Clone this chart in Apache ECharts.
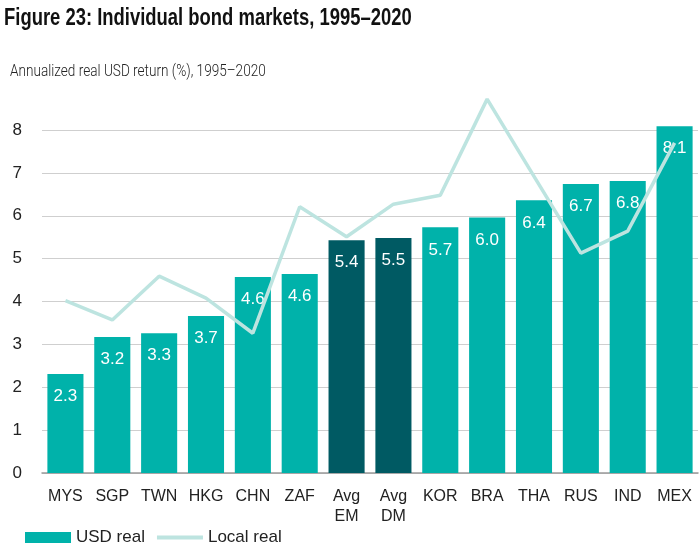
<!DOCTYPE html>
<html>
<head>
<meta charset="utf-8">
<script src="https://cdn.jsdelivr.net/npm/echarts@6/dist/echarts.min.js"></script>
<style>
html,body{margin:0;padding:0;background:#fff;}
#c{width:700px;height:551px;}
</style>
</head>
<body>
<div id="c"></div>
<script>
const categories = ['MYS','SGP','TWN','HKG','CHN','ZAF','Avg\nEM','Avg\nDM','KOR','BRA','THA','RUS','IND','MEX'];
const usdReal = [2.31, 3.17, 3.26, 3.66, 4.57, 4.64, 5.43, 5.48, 5.73, 5.96, 6.36, 6.74, 6.81, 8.09];
const localReal = [4.02, 3.57, 4.59, 4.08, 3.26, 6.21, 5.51, 6.27, 6.48, 8.72, 6.92, 5.13, 5.64, 7.70];
const highlighted = ['Avg\nEM','Avg\nDM'];
const yTicks = [0,1,2,3,4,5,6,7,8];
const titleText = 'Figure 23: Individual bond markets, 1995\u20132020';
const subtitleText = 'Annualized real USD return (%), 1995\u20132020';

const TEAL = '#00B2AA';
const DARK = '#005A63';
const LIGHT = '#BDE4E0';

const chart = echarts.init(document.getElementById('c'), null, {renderer:'canvas'});
chart.setOption({
  animation: false,
  backgroundColor: '#fff',
  graphic: [
    {type: 'text', x: 4, y: 6, scaleX: 0.768,
     style: {text: titleText, font: 'bold 24px "Liberation Sans"', fill: '#111', textVerticalAlign: 'top'}},
    {type: 'text', x: 10, y: 63, scaleX: 0.80,
     style: {text: subtitleText, font: '300 17px Roboto', fill: '#222', textVerticalAlign: 'top'}}
  ],
  legend: {
    left: 20, bottom: 0,
    itemWidth: 46, itemHeight: 11, itemGap: 10,
    textStyle: {fontFamily: 'Liberation Sans', fontSize: 17, color: '#222'},
    data: [
      {name: 'USD real', icon: 'rect', itemStyle: {color: TEAL}},
      {name: 'Local real', itemStyle: {opacity: 0}, lineStyle: {color: LIGHT, width: 4}}
    ]
  },
  grid: {left: 42, right: 2, top: 130, bottom: 78},
  xAxis: {
    type: 'category', data: categories,
    axisLine: {lineStyle: {color: '#9a9a9a', width: 1.5}},
    axisTick: {show: false},
    axisLabel: {fontFamily: 'Liberation Sans', fontSize: 16, color: '#222', margin: 14, lineHeight: 20, interval: 0}
  },
  yAxis: {
    type: 'value', min: 0, max: 8, interval: 1,
    axisLine: {show: false}, axisTick: {show: false},
    splitLine: {lineStyle: {color: '#cfcfcf', width: 1}},
    axisLabel: {fontFamily: 'Liberation Sans', fontSize: 17, color: '#222', margin: 20,
      formatter: v => yTicks.includes(v) ? String(v) : ''}
  },
  series: [
    {
      name: 'USD real', type: 'bar', barCategoryGap: '23%', clip: false,
      data: usdReal.map((v, i) => ({value: v, itemStyle: {color: highlighted.includes(categories[i]) ? DARK : TEAL}})),
      itemStyle: {color: TEAL},
      label: {show: true, position: 'insideTop', distance: 14, color: '#fff',
        fontFamily: 'Liberation Sans', fontSize: 17, formatter: p => p.value.toFixed(1)},
      z: 2
    },
    {
      name: 'Local real', type: 'line', data: localReal, clip: false,
      symbol: 'none', lineStyle: {color: LIGHT, width: 3.5}, itemStyle: {color: LIGHT},
      z: 3
    }
  ]
});
</script>
</body>
</html>
